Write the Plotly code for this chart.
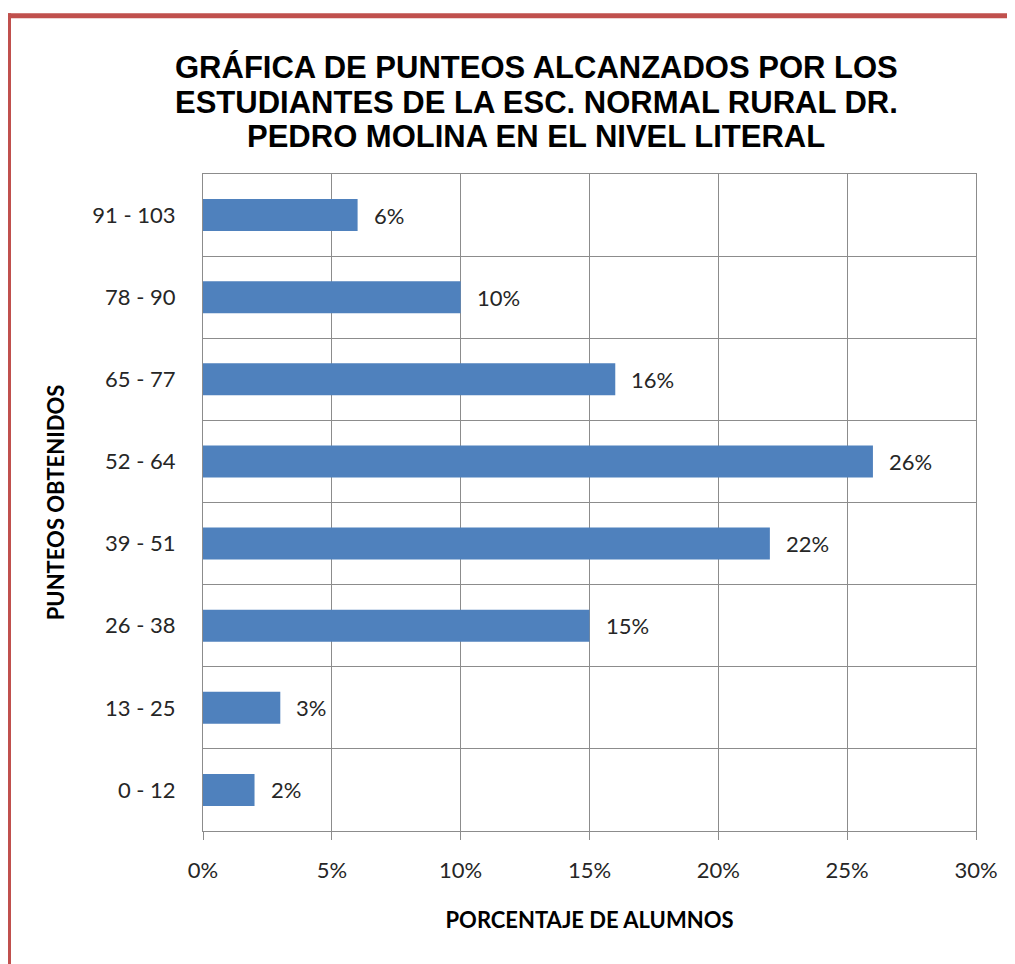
import plotly.graph_objects as go

categories = ["0 - 12", "13 - 25", "26 - 38", "39 - 51", "52 - 64", "65 - 77", "78 - 90", "91 - 103"]
values = [2, 3, 15, 22, 26, 16, 10, 6]
labels = ["2%", "3%", "15%", "22%", "26%", "16%", "10%", "6%"]
x_ticks = [0, 5, 10, 15, 20, 25, 30]
x_tick_text = ["0%", "5%", "10%", "15%", "20%", "25%", "30%"]

title_lines = ["GRÁFICA DE PUNTEOS ALCANZADOS POR LOS",
               "ESTUDIANTES DE LA ESC. NORMAL RURAL DR.",
               "PEDRO MOLINA EN EL NIVEL LITERAL"]

OFF = 8  # page body margin
W, H = 1015 - OFF, 964 - OFF
L, R, T, B = 203 - OFF, 39, 174 - OFF, 133
pw, ph = W - L - R, H - T - B

def px(x):
    return (x - OFF - L) / pw

def py(y):
    return 1 + (T - (y - OFF)) / ph

grid = "#8C8C8C"
txt = "#262626"

fig = go.Figure()
fig.add_trace(go.Bar(
    y=categories, x=values, orientation="h",
    marker=dict(color="#4F81BD", line=dict(width=0)),
    width=0.39, hoverinfo="skip",
))

for c, v, t in zip(categories, values, labels):
    fig.add_annotation(x=v, y=c, text=t, showarrow=False, xanchor="left",
                       xshift=14, font=dict(family="Lato", size=22, color=txt))

for i, line in enumerate(title_lines):
    fig.add_annotation(x=px(536), y=py(68 + 34.5 * i), xref="paper", yref="paper",
                       text="<b>" + line + "</b>", showarrow=False,
                       xanchor="center", yanchor="middle",
                       font=dict(family="Liberation Sans", size=31, color="#000000"))

fig.update_layout(
    width=W, height=H,
    margin=dict(l=L, r=R, t=T, b=B, autoexpand=False),
    paper_bgcolor="white", plot_bgcolor="white",
    showlegend=False,
    xaxis=dict(
        range=[0, 30], tickvals=x_ticks, ticktext=x_tick_text,
        showgrid=True, gridcolor=grid, gridwidth=1,
        showline=True, linecolor=grid, linewidth=1, mirror=True,
        ticks="outside", ticklen=8, tickcolor=grid,
        ticklabelstandoff=12,
        tickfont=dict(family="Lato", size=22, color=txt),
        zeroline=False, fixedrange=True,
        title=dict(text="<b>PORCENTAJE DE ALUMNOS</b>", standoff=30,
                   font=dict(family="Lato", size=22, color="#000000")),
    ),
    yaxis=dict(
        type="category", categoryorder="array", categoryarray=categories,
        tickson="boundaries", showgrid=True, gridcolor=grid, gridwidth=1,
        showline=True, linecolor=grid, linewidth=1, mirror=True,
        ticks="", ticklabelstandoff=22,
        tickfont=dict(family="Lato", size=22, color=txt),
        fixedrange=True,
        title=dict(text="<b>PUNTEOS OBTENIDOS</b>", standoff=21,
                   font=dict(family="Lato", size=22, color="#000000")),
    ),
    shapes=[
        dict(type="line", xref="paper", yref="paper",
             x0=px(6), x1=px(1020), y0=py(15.8), y1=py(15.8),
             line=dict(color="#C0504D", width=5)),
        dict(type="line", xref="paper", yref="paper",
             x0=px(8.5), x1=px(8.5), y0=py(13.3), y1=py(970),
             line=dict(color="#C0504D", width=5)),
    ],
)

fig.write_html("out.html")
